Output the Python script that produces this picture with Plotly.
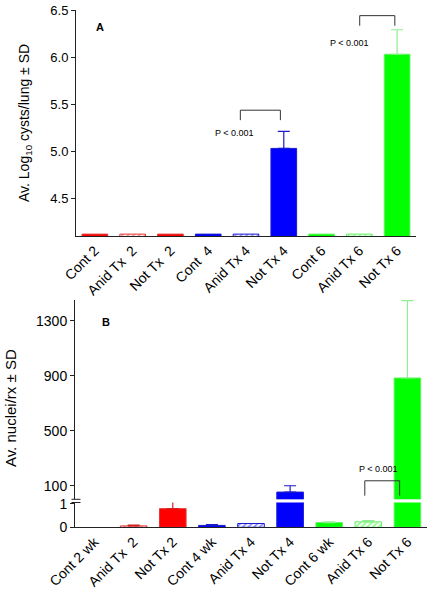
import plotly.graph_objects as go

# ---------------- data ----------------
cats_a = ["Cont 2", "Anid Tx  2", "Not Tx  2", "Cont  4", "Anid Tx 4", "Not Tx 4",
          "Cont 6", "Anid Tx 6", "Not Tx 6"]
vals_a = [4.12, 4.12, 4.12, 4.12, 4.12, 5.03, 4.12, 4.12, 6.03]
err_a = [0, 0, 0, 0, 0, 0.18, 0, 0, 0.26]

cats_b = ["Cont 2 wk", "Anid Tx  2", "Not Tx 2", "Cont 4 wk", "Anid Tx 4", "Not Tx 4",
          "Cont 6 wk", "Anid Tx 6", "Not Tx 6"]
vals_b = [0.0, 0.06, 0.79, 0.08, 0.16, 54, 0.20, 0.23, 883]
err_b = [0, 0.03, 0.35, 0.03, 0.0, 46, 0.03, 0.05, 562]

group = ["r", "r", "r", "b", "b", "b", "g", "g", "g"]
hatched = [False, True, False, False, True, False, False, True, False]

ticks_a = [4.5, 5.0, 5.5, 6.0, 6.5]
ticks_b_low = [0, 1]
ticks_b_high = [100, 500, 900, 1300]
low_range = [0, 1.05]
high_range = [1.5, 1450]

# ---------------- styles ----------------
FILL = {"r": "#ff0000", "b": "#0000ff", "g": "#00ff00"}
EDGE = {"r": "#e03a3a", "b": "#1a1ad0", "g": "#66f066"}
ERRC = {"r": "#d02020", "b": "#1a1acc", "g": "#90ee90"}
FONT = "Liberation Sans, Arial, sans-serif"
W, H = 431, 593


def px(x):
    return x / W


def py(y):
    return 1 - y / H


fig = go.Figure()


def add_bars(cats, vals, errs, xa, ya, vmin=None):
    xs = list(range(len(cats)))
    for i in xs:
        if vmin is not None and vals[i] <= vmin:
            continue
        g = group[i]
        lw = 1 if vals[i] > 0 else 0
        marker = dict(color=FILL[g], line=dict(color=EDGE[g], width=lw))
        if hatched[i]:
            marker = dict(color="#f4f4ff" if g == "b" else ("#fff4f4" if g == "r" else "#f4fff4"),
                          line=dict(color=EDGE[g], width=lw),
                          pattern=dict(shape="/", fgcolor=FILL[g], size=4, solidity=0.35))
        fig.add_trace(go.Bar(
            x=[xs[i]], y=[vals[i]], width=0.68, marker=marker,
            error_y=dict(type="data", symmetric=False, array=[errs[i]], arrayminus=[0],
                         color=ERRC[g], thickness=1.2, width=6, visible=errs[i] > 0),
            xaxis=xa, yaxis=ya, showlegend=False, hoverinfo="skip"))


add_bars(cats_a, vals_a, err_a, "x", "y")
add_bars(cats_b, vals_b, err_b, "x2", "y3")
add_bars(cats_b, vals_b, err_b, "x2", "y4", vmin=high_range[0])

axis_common = dict(showline=True, linecolor="#222", linewidth=1, showgrid=False,
                   zeroline=False, automargin=False, ticklabeloverflow="allow",
                   tickfont=dict(family=FONT, color="black"))

fig.update_layout(
    width=W, height=H, margin=dict(l=0, r=0, t=0, b=0),
    paper_bgcolor="white", plot_bgcolor="white", barmode="overlay",
    showlegend=False,
    xaxis=dict(axis_common, domain=[px(76), px(416)], anchor="y", range=[-0.5, 8.5],
               tickvals=list(range(9)), ticktext=cats_a, tickangle=-45, ticks="",
               tickfont=dict(family=FONT, size=14, color="black")),
    yaxis=dict(axis_common, domain=[py(236), py(10)], anchor="x", range=[4.1, 6.5],
               tickvals=ticks_a, ticktext=[f"{t:.1f}" for t in ticks_a],
               ticks="outside", ticklen=4, tickcolor="#222",
               tickfont=dict(family=FONT, size=13, color="black")),
    xaxis2=dict(axis_common, domain=[px(75), px(427)], anchor="y3", range=[-0.5, 8.5],
                tickvals=list(range(9)), ticktext=cats_b, tickangle=-45, ticks="",
                tickfont=dict(family=FONT, size=14, color="black")),
    yaxis3=dict(axis_common, domain=[py(527.3), py(502.5)], anchor="x2", range=low_range,
                tickvals=ticks_b_low, ticktext=[str(t) for t in ticks_b_low],
                ticks="outside", ticklen=4, tickcolor="#222",
                tickfont=dict(family=FONT, size=14, color="black")),
    yaxis4=dict(axis_common, domain=[py(499.3), py(300)], anchor="x2", range=high_range,
                tickvals=ticks_b_high, ticktext=[str(t) for t in ticks_b_high],
                ticks="outside", ticklen=4, tickcolor="#222",
                tickfont=dict(family=FONT, size=14, color="black")),
)

# axis break marks
for yy in (499.3, 502.5):
    fig.add_shape(type="line", xref="paper", yref="paper",
                  x0=px(71.5), x1=px(80.5), y0=py(yy), y1=py(yy),
                  line=dict(color="#222", width=1))

# y titles
fig.add_annotation(text="Av. Log<sub>10</sub> cysts/lung ± SD", xref="paper", yref="paper",
                   x=px(25), y=py(123), xanchor="center", yanchor="middle",
                   textangle=-90, showarrow=False,
                   font=dict(family=FONT, size=14, color="black"))
fig.add_annotation(text="Av. nuclei/rx ± SD", xref="paper", yref="paper",
                   x=px(10), y=py(408), xanchor="center", yanchor="middle",
                   textangle=-90, showarrow=False,
                   font=dict(family=FONT, size=15, color="black"))

# panel letters
fig.add_annotation(text="<b>A</b>", xref="x", yref="y", x=0.13, y=6.32, showarrow=False,
                   xanchor="center", font=dict(family=FONT, size=11, color="black"))
fig.add_annotation(text="<b>B</b>", xref="x2", yref="y4", x=0.29, y=1290, showarrow=False,
                   xanchor="center", font=dict(family=FONT, size=11, color="black"))


def bracket(xa, ya, x0, x1, ytop, ybot, tx, ty):
    fig.add_shape(type="path", xref=xa, yref=ya,
                  path=f"M {x0} {ybot} L {x0} {ytop} L {x1} {ytop} L {x1} {ybot}",
                  line=dict(color="#333", width=1))
    fig.add_annotation(text="P < 0.001", xref=xa, yref=ya, x=tx, y=ty, showarrow=False,
                       xanchor="center", font=dict(family=FONT, size=9, color="black"))


bracket("x", "y", 3.85, 4.91, 5.436, 5.33, 3.7, 5.19)
bracket("x", "y", 7.01, 7.94, 6.44, 6.333, 6.73, 6.149)
bracket("x2", "y4", 6.91, 7.80, 136, 28, 7.26, 221)

fig.write_html("out.html", config={"displayModeBar": False, "staticPlot": True},
               post_script="document.body.style.margin='0';document.body.style.overflow='hidden';")
